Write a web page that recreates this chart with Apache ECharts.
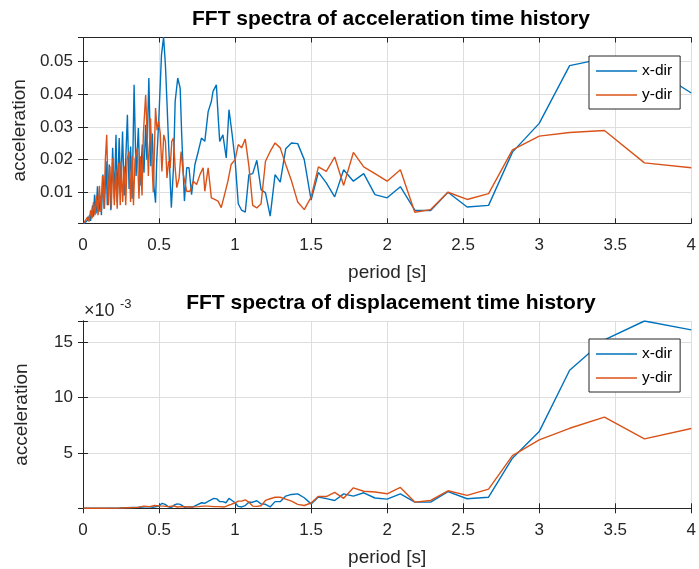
<!DOCTYPE html>
<html lang="en">
<head>
    <meta charset="utf-8">
    <title>FFT spectra</title>
    <script src="https://cdn.jsdelivr.net/npm/echarts@6/dist/echarts.min.js"></script>
    <style>
        html, body {
            margin: 0px;
            padding: 0px;
            background-color: #fff;
        }

        #chart {
            width: 699px;
            height: 569px;
        }
    </style>
</head>
<body>
<div id="chart"></div>
<script type="text/javascript">
    // [period (s), amplitude]
    var accXdir = [
        [0.005, 0.0003], [0.017, 0.0008], [0.031, 0.0015], [0.044, 0.0030], [0.050, 0.0012], [0.063, 0.0060],
        [0.069, 0.0025], [0.076, 0.0093], [0.086, 0.0035], [0.095, 0.0118], [0.105, 0.0040], [0.115, 0.0090],
        [0.121, 0.0030], [0.131, 0.0154], [0.141, 0.0050], [0.152, 0.0195], [0.160, 0.0060], [0.173, 0.0185],
        [0.183, 0.0045], [0.195, 0.0236], [0.206, 0.0080], [0.217, 0.0276], [0.225, 0.0070], [0.238, 0.0266],
        [0.248, 0.0100], [0.260, 0.0286], [0.271, 0.0090], [0.281, 0.0200], [0.292, 0.0337], [0.303, 0.0110],
        [0.313, 0.0240], [0.323, 0.0080], [0.336, 0.0429], [0.349, 0.0150], [0.364, 0.0297], [0.375, 0.0120],
        [0.390, 0.0246], [0.401, 0.0160], [0.412, 0.0307], [0.420, 0.0200], [0.433, 0.0450], [0.446, 0.0180],
        [0.456, 0.0280], [0.466, 0.0120], [0.477, 0.0068], [0.485, 0.0200], [0.498, 0.0317], [0.516, 0.0520],
        [0.530, 0.0575], [0.542, 0.0490], [0.552, 0.0378], [0.563, 0.0246], [0.581, 0.0053], [0.595, 0.0175],
        [0.606, 0.0378], [0.623, 0.0450], [0.639, 0.0419], [0.649, 0.0276], [0.667, 0.0073], [0.682, 0.0175],
        [0.697, 0.0175], [0.714, 0.0093], [0.736, 0.0185], [0.758, 0.0225], [0.779, 0.0266], [0.801, 0.0256],
        [0.823, 0.0347], [0.844, 0.0378], [0.855, 0.0409], [0.877, 0.0429], [0.888, 0.0337], [0.899, 0.0256],
        [0.920, 0.0276], [0.942, 0.0205], [0.960, 0.0353], [0.980, 0.0280], [1.000, 0.0200], [1.021, 0.0065],
        [1.043, 0.0045], [1.067, 0.0039], [1.091, 0.0154], [1.116, 0.0157], [1.143, 0.0198], [1.171, 0.0108],
        [1.200, 0.0098], [1.231, 0.0027], [1.263, 0.0154], [1.297, 0.0131], [1.333, 0.0233], [1.371, 0.0251],
        [1.412, 0.0249], [1.455, 0.0200], [1.500, 0.0076], [1.548, 0.0161], [1.600, 0.0129], [1.655, 0.0086],
        [1.714, 0.0169], [1.778, 0.0134], [1.846, 0.0157], [1.920, 0.0093], [2.000, 0.0083], [2.087, 0.0117],
        [2.182, 0.0045], [2.286, 0.0044], [2.400, 0.0100], [2.526, 0.0055], [2.667, 0.0060], [2.824, 0.0223],
        [3.000, 0.0311], [3.200, 0.0488], [3.429, 0.0510], [3.692, 0.0495], [4.000, 0.0404]
    ];
    var accYdir = [
        [0.005, 0.0006], [0.018, 0.0010], [0.031, 0.0025], [0.040, 0.0010], [0.050, 0.0045], [0.060, 0.0020],
        [0.069, 0.0070], [0.079, 0.0030], [0.089, 0.0090], [0.099, 0.0030], [0.108, 0.0120], [0.118, 0.0040],
        [0.128, 0.0150], [0.138, 0.0050], [0.147, 0.0200], [0.156, 0.0276], [0.167, 0.0060], [0.177, 0.0180],
        [0.186, 0.0050], [0.196, 0.0205], [0.206, 0.0060], [0.216, 0.0170], [0.225, 0.0050], [0.235, 0.0190],
        [0.245, 0.0060], [0.251, 0.0195], [0.261, 0.0070], [0.271, 0.0180], [0.281, 0.0060], [0.290, 0.0200],
        [0.303, 0.0225], [0.313, 0.0070], [0.323, 0.0210], [0.332, 0.0060], [0.342, 0.0200], [0.357, 0.0236],
        [0.368, 0.0080], [0.378, 0.0210], [0.388, 0.0090], [0.397, 0.0280], [0.412, 0.0398], [0.420, 0.0300],
        [0.430, 0.0150], [0.444, 0.0327], [0.453, 0.0200], [0.462, 0.0100], [0.477, 0.0358], [0.487, 0.0290],
        [0.498, 0.0317], [0.508, 0.0280], [0.519, 0.0164], [0.531, 0.0276], [0.542, 0.0256], [0.552, 0.0144],
        [0.563, 0.0195], [0.573, 0.0174], [0.584, 0.0256], [0.595, 0.0266], [0.606, 0.0175], [0.617, 0.0114],
        [0.632, 0.0144], [0.645, 0.0225], [0.660, 0.0154], [0.682, 0.0103], [0.704, 0.0103], [0.725, 0.0134],
        [0.747, 0.0124], [0.769, 0.0154], [0.790, 0.0175], [0.801, 0.0103], [0.823, 0.0175], [0.844, 0.0083],
        [0.866, 0.0078], [0.888, 0.0073], [0.909, 0.0053], [0.931, 0.0093], [0.953, 0.0134], [0.974, 0.0185],
        [1.000, 0.0200], [1.021, 0.0246], [1.043, 0.0236], [1.067, 0.0263], [1.091, 0.0180], [1.116, 0.0060],
        [1.143, 0.0052], [1.171, 0.0065], [1.200, 0.0195], [1.231, 0.0225], [1.263, 0.0251], [1.297, 0.0236],
        [1.333, 0.0185], [1.371, 0.0135], [1.412, 0.0070], [1.455, 0.0047], [1.500, 0.0085], [1.548, 0.0178],
        [1.600, 0.0164], [1.655, 0.0208], [1.714, 0.0121], [1.778, 0.0222], [1.846, 0.0178], [1.920, 0.0157],
        [2.000, 0.0134], [2.087, 0.0169], [2.182, 0.0039], [2.286, 0.0047], [2.400, 0.0100], [2.526, 0.0078],
        [2.667, 0.0096], [2.824, 0.0230], [3.000, 0.0272], [3.200, 0.0283], [3.429, 0.0289], [3.692, 0.0190],
        [4.000, 0.0175]
    ];
    var dispXdir = [
        [0.005, 0.00000], [0.100, 0.00001], [0.240, 0.00004], [0.370, 0.00009], [0.430, 0.00015], [0.460, 0.00010],
        [0.500, 0.00020], [0.520, 0.00045], [0.540, 0.00035], [0.560, 0.00015], [0.580, 0.00005], [0.600, 0.00030],
        [0.620, 0.00040], [0.640, 0.00035], [0.670, 0.00008], [0.700, 0.00015], [0.720, 0.00010], [0.740, 0.00025],
        [0.780, 0.00050], [0.800, 0.00045], [0.820, 0.00060], [0.860, 0.00090], [0.880, 0.00085], [0.900, 0.00060],
        [0.920, 0.00060], [0.940, 0.00050], [0.960, 0.00090], [0.980, 0.00070], [1.000, 0.00050], [1.021, 0.00017],
        [1.043, 0.00012], [1.067, 0.00025], [1.091, 0.00055], [1.116, 0.00055], [1.143, 0.00068], [1.171, 0.00040],
        [1.200, 0.00036], [1.231, 0.00012], [1.263, 0.00060], [1.297, 0.00060], [1.333, 0.00110], [1.371, 0.00125],
        [1.412, 0.00130], [1.455, 0.00095], [1.500, 0.00040], [1.548, 0.00102], [1.600, 0.00087], [1.655, 0.00070],
        [1.714, 0.00130], [1.778, 0.00110], [1.846, 0.00140], [1.920, 0.00093], [2.000, 0.00083], [2.087, 0.00131],
        [2.182, 0.00056], [2.286, 0.00056], [2.400, 0.00151], [2.526, 0.00086], [2.667, 0.00100], [2.824, 0.00452],
        [3.000, 0.00692], [3.200, 0.01246], [3.429, 0.01520], [3.692, 0.01690], [4.000, 0.01610]
    ];
    var dispYdir = [
        [0.005, 0.00000], [0.120, 0.00001], [0.250, 0.00003], [0.360, 0.00008], [0.400, 0.00020], [0.440, 0.00015],
        [0.470, 0.00025], [0.500, 0.00022], [0.530, 0.00020], [0.560, 0.00015], [0.595, 0.00022], [0.620, 0.00012],
        [0.660, 0.00015], [0.700, 0.00012], [0.760, 0.00015], [0.790, 0.00020], [0.820, 0.00020], [0.860, 0.00015],
        [0.890, 0.00015], [0.930, 0.00012], [0.953, 0.00025], [0.974, 0.00035], [1.000, 0.00050], [1.021, 0.00065],
        [1.043, 0.00065], [1.067, 0.00076], [1.091, 0.00055], [1.116, 0.00020], [1.143, 0.00017], [1.171, 0.00023],
        [1.200, 0.00071], [1.231, 0.00086], [1.263, 0.00100], [1.297, 0.00100], [1.333, 0.00083], [1.371, 0.00064],
        [1.412, 0.00035], [1.455, 0.00025], [1.500, 0.00048], [1.548, 0.00108], [1.600, 0.00106], [1.655, 0.00144],
        [1.714, 0.00090], [1.778, 0.00185], [1.846, 0.00154], [1.920, 0.00147], [2.000, 0.00131], [2.087, 0.00188],
        [2.182, 0.00056], [2.286, 0.00071], [2.400, 0.00158], [2.526, 0.00116], [2.667, 0.00173], [2.824, 0.00476],
        [3.000, 0.00617], [3.200, 0.00722], [3.429, 0.00822], [3.692, 0.00626], [4.000, 0.00720]
    ];

    var xRange = [0, 4];
    var accRange = [0.0005, 0.0574];
    var dispRange = [0, 0.0169];

    var font = '"Liberation Sans", Arial, Helvetica, sans-serif';
    var ink = '#262626';
    var blue = '#0072BD';
    var orange = '#D95319';

    var myChart = echarts.init(document.getElementById('chart'), null, {renderer: 'canvas'});

    function xAxisPair(gridIndex) {
        return [{
            gridIndex: gridIndex,
            type: 'value',
            min: xRange[0],
            max: xRange[1],
            interval: 0.5,
            name: 'period [s]',
            nameLocation: 'middle',
            nameGap: 40,
            nameTextStyle: {fontFamily: font, fontSize: 19, color: ink},
            axisLine: {show: true, lineStyle: {color: ink, width: 1}},
            axisTick: {show: true, inside: true, length: 5, lineStyle: {color: ink}},
            axisLabel: {fontFamily: font, fontSize: 17, color: ink, margin: 14},
            splitLine: {show: true, lineStyle: {color: '#dedede', width: 1}}
        }, {
            gridIndex: gridIndex,
            type: 'value',
            position: 'top',
            min: xRange[0],
            max: xRange[1],
            interval: 0.5,
            axisLine: {show: true, lineStyle: {color: ink, width: 1}},
            axisTick: {show: true, inside: true, length: 5, lineStyle: {color: ink}},
            axisLabel: {show: false},
            splitLine: {show: false}
        }];
    }

    function yAxisPair(gridIndex, range, opts) {
        var left = {
            gridIndex: gridIndex,
            type: 'value',
            min: range[0],
            max: range[1],
            name: 'acceleration',
            nameLocation: 'middle',
            nameGap: 52,
            nameTextStyle: {fontFamily: font, fontSize: 19, color: ink},
            axisLine: {show: true, lineStyle: {color: ink, width: 1}},
            axisTick: {show: true, inside: true, length: 5, lineStyle: {color: ink}},
            axisLabel: {fontFamily: font, fontSize: 17, color: ink, margin: 10, formatter: opts.formatter},
            splitLine: {show: true, lineStyle: {color: '#dedede', width: 1}}
        };
        var right = {
            gridIndex: gridIndex,
            type: 'value',
            position: 'right',
            min: range[0],
            max: range[1],
            axisLine: {show: true, lineStyle: {color: ink, width: 1}},
            axisTick: {show: true, inside: true, length: 5, lineStyle: {color: ink}},
            axisLabel: {show: false},
            splitLine: {show: false}
        };
        if (opts.interval) {
            left.interval = opts.interval;
            right.interval = opts.interval;
        } else {
            left.splitNumber = opts.splitNumber;
            right.splitNumber = opts.splitNumber;
        }
        return [left, right];
    }

    // only label the round ticks, not the extent ends
    function accLabel(v) {
        var r = Math.round(v * 100);
        if (r > 0 && Math.abs(v * 100 - r) < 1e-6) return (r / 100).toFixed(2);
        return '';
    }

    function dispLabel(v) {
        var r = Math.round(v * 200);
        if (r > 0 && Math.abs(v * 200 - r) < 1e-6) return String(r * 5);
        return '';
    }

    function lineSeries(name, color, xi, yi, data) {
        return {
            name: name,
            type: 'line',
            xAxisIndex: xi,
            yAxisIndex: yi,
            data: data,
            symbol: 'none',
            showSymbol: false,
            clip: true,
            lineStyle: {color: color, width: 1.4},
            itemStyle: {color: color}
        };
    }

    function legendBox(top) {
        return {
            data: ['x-dir', 'y-dir'],
            orient: 'vertical',
            left: 589,
            top: top,
            padding: [7, 8, 6, 7],
            itemGap: 8,
            itemWidth: 41,
            itemHeight: 1.5,
            icon: 'rect',
            backgroundColor: '#fff',
            borderColor: ink,
            borderWidth: 1,
            borderRadius: 0,
            textStyle: {fontFamily: font, fontSize: 15.5, color: '#000', lineHeight: 16}
        };
    }

    var option = {
        animation: false,
        backgroundColor: '#fff',
        grid: [
            {left: 83, right: 0, top: 37.5, height: 185.8, show: false},
            {left: 83, right: 0, top: 321, height: 187.3, show: false}
        ],
        xAxis: xAxisPair(0).concat(xAxisPair(1)),
        yAxis: yAxisPair(0, accRange, {splitNumber: 5, formatter: accLabel})
            .concat(yAxisPair(1, dispRange, {interval: 0.005, formatter: dispLabel})),
        legend: [legendBox(56), legendBox(339)],
        graphic: [
            {
                type: 'text', x: 391, y: 19,
                style: {
                    text: 'FFT spectra of acceleration time history',
                    font: 'bold 21px ' + font, fill: '#000',
                    textAlign: 'center', align: 'center', textVerticalAlign: 'middle', verticalAlign: 'middle'
                }
            },
            {
                type: 'text', x: 391, y: 303,
                style: {
                    text: 'FFT spectra of displacement time history',
                    font: 'bold 21px ' + font, fill: '#000',
                    textAlign: 'center', align: 'center', textVerticalAlign: 'middle', verticalAlign: 'middle'
                }
            },
            {
                type: 'text', x: 84, y: 311,
                style: {
                    text: '\u00d710', font: '18px ' + font, fill: ink,
                    textAlign: 'left', align: 'left', textVerticalAlign: 'middle', verticalAlign: 'middle'
                }
            },
            {
                type: 'text', x: 120, y: 304,
                style: {
                    text: '-3', font: '13px ' + font, fill: ink,
                    textAlign: 'left', align: 'left', textVerticalAlign: 'middle', verticalAlign: 'middle'
                }
            }
        ],
        series: [
            lineSeries('x-dir', blue, 0, 0, accXdir),
            lineSeries('y-dir', orange, 0, 0, accYdir),
            lineSeries('x-dir', blue, 2, 2, dispXdir),
            lineSeries('y-dir', orange, 2, 2, dispYdir)
        ]
    };

    myChart.setOption(option);
</script>
</body>
</html>
